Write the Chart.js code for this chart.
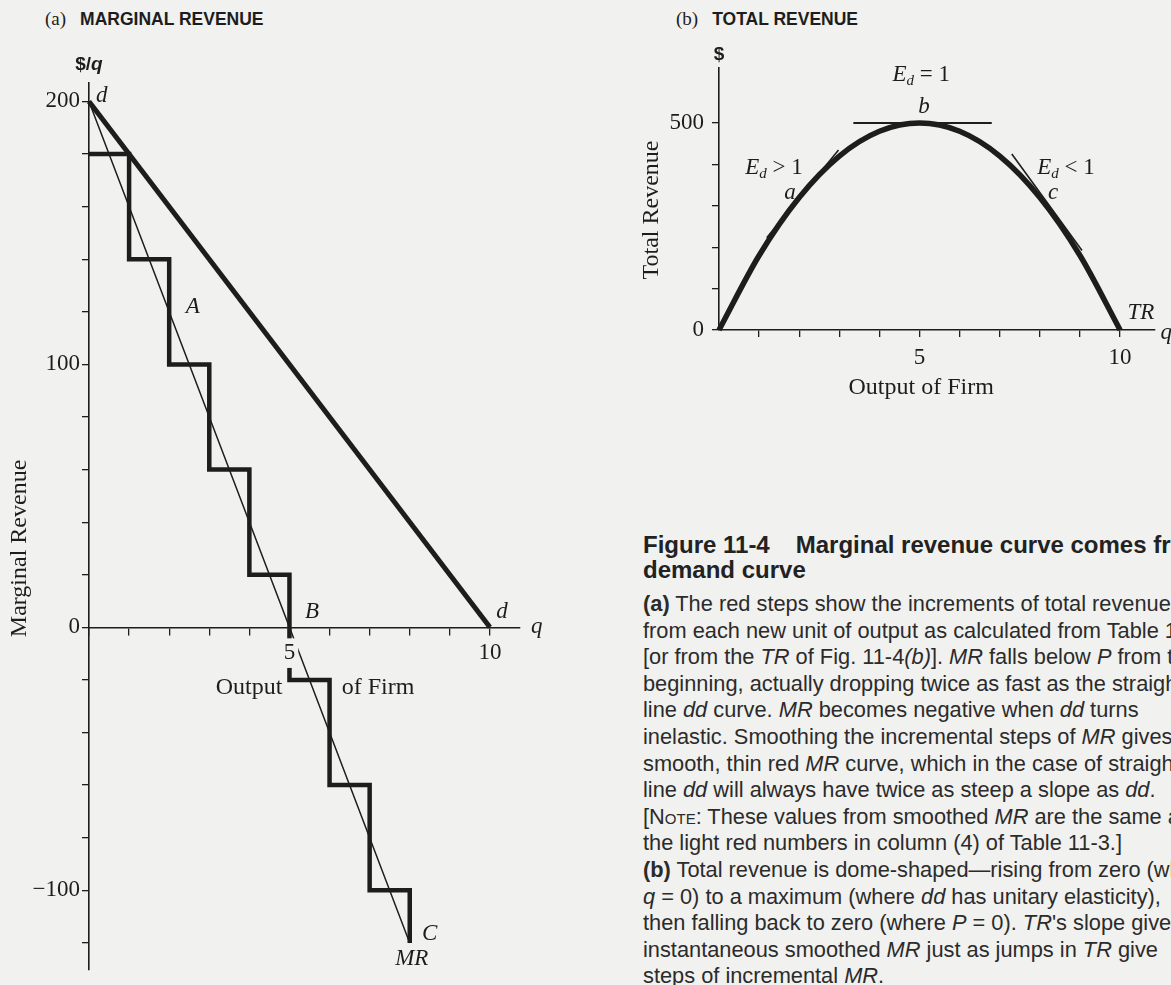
<!DOCTYPE html>
<html>
<head>
<meta charset="utf-8">
<script src="https://cdn.jsdelivr.net/npm/chart.js@4.4.1/dist/chart.umd.min.js"></script>
<style>
  html, body { margin: 0; padding: 0; }
  body { background: #f1f1ef; }
  #page { position: relative; width: 1171px; height: 985px; overflow: hidden; background: #f1f1ef; }
  .panel-title { position: absolute; top: 8px; white-space: nowrap; color: #1d1d1d;
    font: bold 17.5px "Liberation Sans", Arial, sans-serif; }
  .panel-title .paren { font: 19px "Liberation Serif", serif; margin-right: 14px; }
  #titleA { left: 45px; }
  #titleB { left: 676px; }
  .chart-box { position: absolute; }
  #boxA { left: 0; top: 0; width: 570px; height: 985px; }
  #boxB { left: 600px; top: 0; width: 571px; height: 420px; }
  #caption { position: absolute; left: 643px; top: 532px; white-space: nowrap; color: #2b2b2b;
    font-family: "Liberation Sans", Arial, sans-serif; }
  #caption .head { font-weight: bold; font-size: 24px; line-height: 25px; color: #222; }
  #caption .head .num { margin-right: 26px; }
  #caption .body { margin-top: 9px; font-size: 21.8px; line-height: 26.6px; }
  #caption .sc { font-variant: small-caps; }
</style>
</head>
<body>
<div id="page">
  <div class="panel-title" id="titleA"><span class="paren">(a)</span>MARGINAL REVENUE</div>
  <div class="panel-title" id="titleB"><span class="paren">(b)</span>TOTAL REVENUE</div>
  <div class="chart-box" id="boxA"><canvas id="mrChart"></canvas></div>
  <div class="chart-box" id="boxB"><canvas id="trChart"></canvas></div>
  <div id="caption">
    <div class="head"><span class="num">Figure 11-4</span>Marginal revenue curve comes from<br>demand curve</div>
    <div class="body">
      <b>(a)</b> The red steps show the increments of total revenue<br>
      from each new unit of output as calculated from Table 11-3<br>
      [or from the <i>TR</i> of Fig. 11-4<i>(b)</i>]. <i>MR</i> falls below <i>P</i> from the<br>
      beginning, actually dropping twice as fast as the straight-<br>
      line <i>dd</i> curve. <i>MR</i> becomes negative when <i>dd</i> turns<br>
      inelastic. Smoothing the incremental steps of <i>MR</i> gives the<br>
      smooth, thin red <i>MR</i> curve, which in the case of straight-<br>
      line <i>dd</i> will always have twice as steep a slope as <i>dd</i>.<br>
      [<span class="sc">Note</span>: These values from smoothed <i>MR</i> are the same as<br>
      the light red numbers in column (4) of Table 11-3.]<br>
      <b>(b)</b> Total revenue is dome-shaped&mdash;rising from zero (when<br>
      <i>q</i> = 0) to a maximum (where <i>dd</i> has unitary elasticity),<br>
      then falling back to zero (where <i>P</i> = 0). <i>TR</i>'s slope gives<br>
      instantaneous smoothed <i>MR</i> just as jumps in <i>TR</i> give<br>
      steps of incremental <i>MR</i>.
    </div>
  </div>
</div>
<script>
/* Figure 11-4: marginal revenue steps (a) and the total revenue dome (b) */

const INK = '#1d1d1d';
const PAPER = '#f1f1ef';
const SERIF = '"Liberation Serif", "Times New Roman", serif';
const SANS = '"Liberation Sans", Arial, sans-serif';

// ---- (a) marginal revenue ----
const demandQ = [0, 10];
const demandP = [200, 0];
const stepQ = [0, 1, 2, 3, 4, 5, 6, 7, 8];
const stepMR = [180, 140, 100, 60, 20, -20, -60, -100, -120];
const smoothQ = [0, 5, 8];
const smoothMR = [200, 0, -120];
const mrTicksX = [0, 1, 2, 3, 4, 5, 6, 7, 8, 9, 10];
const mrTicksY = [-120, -100, -80, -60, -40, -20, 0, 20, 40, 60, 80, 100, 120, 140, 160, 180, 200];
const mrLabelsX = [5, 10];
const mrLabelsY = [-100, 0, 100, 200];

// ---- (b) total revenue ----
const outputQ = [0, 1, 2, 3, 4, 5, 6, 7, 8, 9, 10];
const totalRev = [0, 180, 320, 420, 480, 500, 480, 420, 320, 180, 0];
const tangentAQ = [1.19, 2.98];
const tangentATR = [223, 435];
const tangentBQ = [3.35, 6.8];
const tangentBTR = [500, 500];
const tangentCQ = [7.3, 9.05];
const tangentCTR = [425, 192];
const trTicksX = [1, 2, 3, 4, 5, 6, 7, 8, 9, 10];
const trTicksY = [0, 100, 200, 300, 400, 500];
const trLabelsX = [5, 10];
const trLabelsY = [0, 500];

Chart.defaults.font.family = SERIF;
Chart.defaults.color = INK;

const pts = (xs, ys) => xs.map((x, i) => ({ x, y: ys[i] }));
const minus = v => (v < 0 ? '\u2212' + Math.abs(v) : String(v));

// text written at data coordinates (letters, axis names, E_d notes)
const figLabels = {
  id: 'figLabels',
  afterDraw(chart, args, opts) {
    const ctx = chart.ctx;
    const sx = chart.scales.x, sy = chart.scales.y;
    ctx.save();
    ctx.fillStyle = INK;
    ctx.textBaseline = 'middle';
    ctx.textAlign = 'left';
    opts.items.forEach(item => {
      const parts = item.parts || [[item.text, item.font]];
      let width = 0;
      parts.forEach(p => { ctx.font = p[1]; width += ctx.measureText(p[0]).width; });
      ctx.save();
      ctx.translate(sx.getPixelForValue(item.x), sy.getPixelForValue(item.y));
      if (item.rotate) ctx.rotate(item.rotate * Math.PI / 180);
      let cx = -width / 2;
      parts.forEach(p => {
        ctx.font = p[1];
        ctx.fillText(p[0], cx, p[2] || 0);
        cx += ctx.measureText(p[0]).width;
      });
      ctx.restore();
    });
    ctx.restore();
  }
};

const ITAL = `italic 23px ${SERIF}`;
const ROMAN = `23px ${SERIF}`;
const TITLE = `24px ${SERIF}`;
const SUB = `italic 15px ${SERIF}`;
const SANSB = `bold 19px ${SANS}`;
const SANSBI = `bold italic 19px ${SANS}`;

const line = (data, width) => ({
  data, showLine: true, borderColor: INK, borderWidth: width,
  pointRadius: 0, clip: false, borderCapStyle: 'butt'
});

const axisGrid = { display: true, drawOnChartArea: false, drawTicks: true, tickLength: 7, color: INK, lineWidth: 1.3 };
const axisBorder = { display: true, color: INK, width: 1.6 };

// (a) marginal revenue
const stepSet = line(pts(stepQ, stepMR), 4.5);
stepSet.stepped = 'before';
stepSet.borderJoinStyle = 'miter';

new Chart(document.getElementById('mrChart'), {
  type: 'scatter',
  data: {
    datasets: [
      line(pts(demandQ, demandP), 5),
      stepSet,
      line(pts(smoothQ, smoothMR), 1.5)
    ]
  },
  options: {
    responsive: true,
    maintainAspectRatio: false,
    animation: false,
    events: [],
    layout: { padding: { left: 0, top: 83, right: 50, bottom: 2 } },
    plugins: {
      legend: { display: false },
      tooltip: { enabled: false },
      figLabels: {
        items: [
          { x: 0, y: 214, parts: [['$/', SANSB], ['q', SANSBI]] },
          { x: 0.32, y: 202, text: 'd', font: ITAL },
          { x: 2.59, y: 122, text: 'A', font: ITAL },
          { x: 5.56, y: 6, text: 'B', font: ITAL },
          { x: 10.3, y: 6, text: 'd', font: ITAL },
          { x: 11.17, y: 0, text: 'q', font: ITAL },
          { x: 3.99, y: -23, text: 'Output', font: TITLE },
          { x: 7.21, y: -23, text: 'of Firm', font: TITLE },
          { x: 8.5, y: -116.5, text: 'C', font: ITAL },
          { x: 8.05, y: -126, text: 'MR', font: ITAL },
          { x: -1.72, y: 30, text: 'Marginal Revenue', font: TITLE, rotate: -90 }
        ]
      }
    },
    scales: {
      x: {
        type: 'linear',
        position: { y: 0 },
        min: 0,
        max: 10.75,
        afterBuildTicks: s => { s.ticks = mrTicksX.map(value => ({ value })); },
        grid: axisGrid,
        border: axisBorder,
        ticks: {
          z: 1,
          padding: 5,
          autoSkip: false,
          maxRotation: 0,
          color: INK,
          font: { size: 23 },
          callback: v => (mrLabelsX.includes(v) ? String(v) : ''),
          showLabelBackdrop: c => !!(c.tick && c.tick.value === 5),
          backdropColor: PAPER,
          backdropPadding: { top: 1, bottom: 1, left: 3, right: 3 }
        }
      },
      y: {
        type: 'linear',
        position: 'left',
        min: -130,
        max: 207,
        afterFit: s => { s.width = 89; },
        afterBuildTicks: s => { s.ticks = mrTicksY.map(value => ({ value })); },
        grid: axisGrid,
        border: axisBorder,
        ticks: {
          padding: 2,
          autoSkip: false,
          color: INK,
          font: { size: 23 },
          callback: v => (mrLabelsY.includes(v) ? minus(v) : '')
        }
      }
    }
  },
  plugins: [figLabels]
});

// (b) total revenue
const trSet = line(pts(outputQ, totalRev), 5.5);
trSet.cubicInterpolationMode = 'monotone';

new Chart(document.getElementById('trChart'), {
  type: 'scatter',
  data: {
    datasets: [
      trSet,
      line(pts(tangentAQ, tangentATR), 1.6),
      line(pts(tangentBQ, tangentBTR), 2),
      line(pts(tangentCQ, tangentCTR), 1.6)
    ]
  },
  options: {
    responsive: true,
    maintainAspectRatio: false,
    animation: false,
    events: [],
    layout: { padding: { left: 0, top: 68, right: 16, bottom: 0 } },
    plugins: {
      legend: { display: false },
      tooltip: { enabled: false },
      figLabels: {
        items: [
          { x: 0, y: 664, text: '$', font: SANSB },
          { x: 5.04, y: 616, parts: [['E', ITAL], ['d', SUB, 6], [' = 1', ROMAN]] },
          { x: 5.11, y: 539, text: 'b', font: ITAL },
          { x: 1.37, y: 391, parts: [['E', ITAL], ['d', SUB, 6], [' > 1', ROMAN]] },
          { x: 1.77, y: 331, text: 'a', font: ITAL },
          { x: 8.65, y: 391, parts: [['E', ITAL], ['d', SUB, 6], [' < 1', ROMAN]] },
          { x: 8.33, y: 331, text: 'c', font: ITAL },
          { x: 10.52, y: 41, text: 'TR', font: ITAL },
          { x: 11.15, y: -7, text: 'q', font: ITAL },
          { x: 5.04, y: -140, text: 'Output of Firm', font: TITLE },
          { x: -1.67, y: 290, text: 'Total Revenue', font: TITLE, rotate: -90 }
        ]
      }
    },
    scales: {
      x: {
        type: 'linear',
        position: 'bottom',
        min: 0,
        max: 10.87,
        afterFit: s => { s.height = 90; },
        afterBuildTicks: s => { s.ticks = trTicksX.map(value => ({ value })); },
        grid: axisGrid,
        border: axisBorder,
        ticks: {
          padding: 7,
          autoSkip: false,
          maxRotation: 0,
          color: INK,
          font: { size: 23 },
          callback: v => (trLabelsX.includes(v) ? String(v) : '')
        }
      },
      y: {
        type: 'linear',
        position: 'left',
        min: 0,
        max: 633,
        afterFit: s => { s.width = 119; },
        afterBuildTicks: s => { s.ticks = trTicksY.map(value => ({ value })); },
        grid: axisGrid,
        border: axisBorder,
        ticks: {
          padding: 8,
          autoSkip: false,
          color: INK,
          font: { size: 23 },
          callback: v => (trLabelsY.includes(v) ? String(v) : '')
        }
      }
    }
  },
  plugins: [figLabels]
});
</script>
</body>
</html>
